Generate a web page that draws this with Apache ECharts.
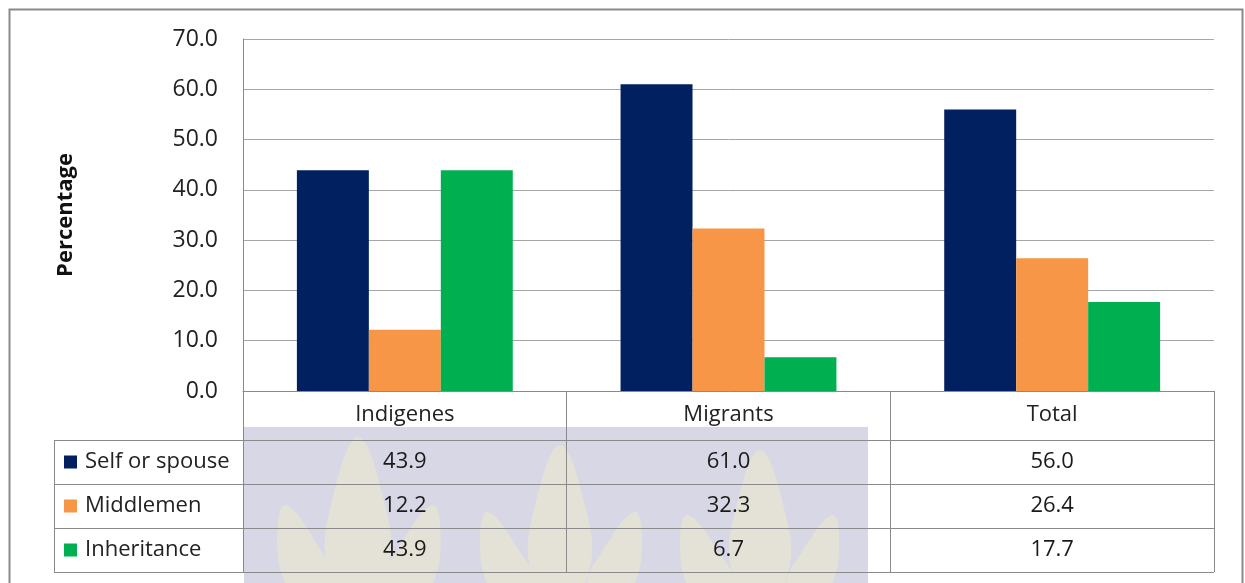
<!DOCTYPE html>
<html><head><meta charset="utf-8">
<script src="https://cdn.jsdelivr.net/npm/echarts@6/dist/echarts.min.js"></script>
<style>html,body{margin:0;padding:0;background:#fff}#c{width:1245px;height:583px}</style>
</head><body><div id="c"></div>
<script>
const categories = ['Indigenes', 'Migrants', 'Total'];
const seriesNames = ['Self or spouse', 'Middlemen', 'Inheritance'];
const selfOrSpouse = [43.9, 61.0, 56.0];
const middlemen = [12.2, 32.3, 26.4];
const inheritance = [43.9, 6.7, 17.7];
const yMin = 0, yMax = 70, yStep = 10;

const rows = [selfOrSpouse, middlemen, inheritance];
const colors = ['#002060', '#F79646', '#00B050'];
const FONT = 'Open Sans';
const LINE = '#8a8a8a';
const G = { left: 243, right: 31, top: 39, bottom: 192 };
const W = 1245, H = 583;
const axisY = H - G.bottom;       // 391
const headH = 49, rowH = 44;
const tableLeft = 54, tableRight = W - G.right;

const chart = echarts.init(document.getElementById('c'), null, { renderer: 'canvas' });

const xAxes = [{
  type: 'category', data: categories, gridIndex: 0, position: 'bottom',
  axisLine: { show: true, lineStyle: { color: LINE, width: 1 } },
  axisTick: { show: true, length: headH + rowH * 3, alignWithLabel: false, lineStyle: { color: LINE, width: 1 } },
  axisLabel: { margin: 12, fontFamily: FONT, fontSize: 22, lineHeight: 24, color: '#222' },
  splitLine: { show: false }
}];
rows.forEach((r, i) => {
  xAxes.push({
    type: 'category', data: categories, gridIndex: 0, position: 'bottom',
    offset: headH + rowH * i,
    axisLine: { show: false }, axisTick: { show: false }, splitLine: { show: false },
    axisLabel: { margin: 10, fontFamily: FONT, fontSize: 22, lineHeight: 24, color: '#1a1a1a',
      formatter: (v, idx) => r[idx].toFixed(1) }
  });
});

const graphics = [];
// watermark (decorative background)
graphics.push({ type: 'rect', z: -20, silent: true, shape: { x: 244, y: 427, width: 624, height: 170 }, style: { fill: '#d7d7e6' } });
function flame(cx, ty, w, by, fill, tilt) {
  tilt = tilt || 0;
  const h = by - ty;
  return { type: 'polygon', z: -15, silent: true,
    shape: { points: [[cx + tilt, ty], [cx + w * 0.42 + tilt * 0.5, ty + h * 0.35], [cx + w * 0.5, ty + h * 0.7], [cx, by], [cx - w * 0.5, ty + h * 0.7], [cx - w * 0.42 + tilt * 0.5, ty + h * 0.35]], smooth: 0.4 },
    style: { fill: fill } };
}
const fy = '#e4e2d6';
graphics.push(flame(358, 437, 62, 620, fy));
graphics.push(flame(560, 445, 60, 620, fy));
graphics.push(flame(760, 450, 58, 620, fy));
graphics.push(flame(310, 505, 48, 620, fy, -25));
graphics.push(flame(408, 505, 48, 620, fy, 25));
graphics.push(flame(512, 512, 46, 620, fy, -25));
graphics.push(flame(610, 512, 46, 620, fy, 25));
graphics.push(flame(712, 515, 46, 620, fy, -25));
graphics.push(flame(808, 515, 44, 620, fy, 25));
// outer frame
graphics.push({ type: 'rect', z: 20, silent: true, shape: { x: 9.5, y: 9.5, width: 1233, height: 600 }, style: { fill: 'none', stroke: LINE, lineWidth: 2 } });
// table horizontal lines
for (let i = 0; i <= 3; i++) {
  const y = axisY + headH + rowH * i + 0.5;
  graphics.push({ type: 'line', z: 20, silent: true, shape: { x1: tableLeft, y1: y, x2: tableRight, y2: y }, style: { stroke: LINE, lineWidth: 1 } });
}
graphics.push({ type: 'line', z: 20, silent: true, shape: { x1: tableLeft + 0.5, y1: axisY + headH, x2: tableLeft + 0.5, y2: axisY + headH + rowH * 3 }, style: { stroke: LINE, lineWidth: 1 } });

const option = {
  animation: false,
  backgroundColor: '#fff',
  textStyle: { fontFamily: FONT },
  grid: { left: G.left, right: G.right, top: G.top, bottom: G.bottom, containLabel: false },
  legend: {
    data: seriesNames, orient: 'vertical', left: 64, top: axisY + headH + 10, padding: 0,
    itemWidth: 13, itemHeight: 13, itemGap: 20, icon: 'rect', selectedMode: false,
    textStyle: { fontFamily: FONT, fontSize: 22, lineHeight: 24, color: '#222', padding: [0, 0, 0, 3] }
  },
  xAxis: xAxes,
  yAxis: {
    type: 'value', min: yMin, max: yMax, interval: yStep,
    name: 'Percentage', nameLocation: 'middle', nameGap: 166, nameRotate: 90,
    nameTextStyle: { fontFamily: FONT, fontSize: 22, fontWeight: 'bold', color: '#111' },
    axisLine: { show: true, lineStyle: { color: LINE, width: 1 } },
    axisTick: { show: false },
    axisLabel: { margin: 25, fontFamily: FONT, fontSize: 23, color: '#222', formatter: v => v.toFixed(1) },
    splitLine: { show: true, lineStyle: { color: '#a6a6a6', width: 1 } }
  },
  graphic: graphics,
  series: rows.map((r, i) => ({
    name: seriesNames[i], type: 'bar', data: r, xAxisIndex: 0,
    barGap: '0%', barCategoryGap: '33.3%',
    itemStyle: { color: colors[i] }
  }))
};
chart.setOption(option);
</script>
</body></html>
